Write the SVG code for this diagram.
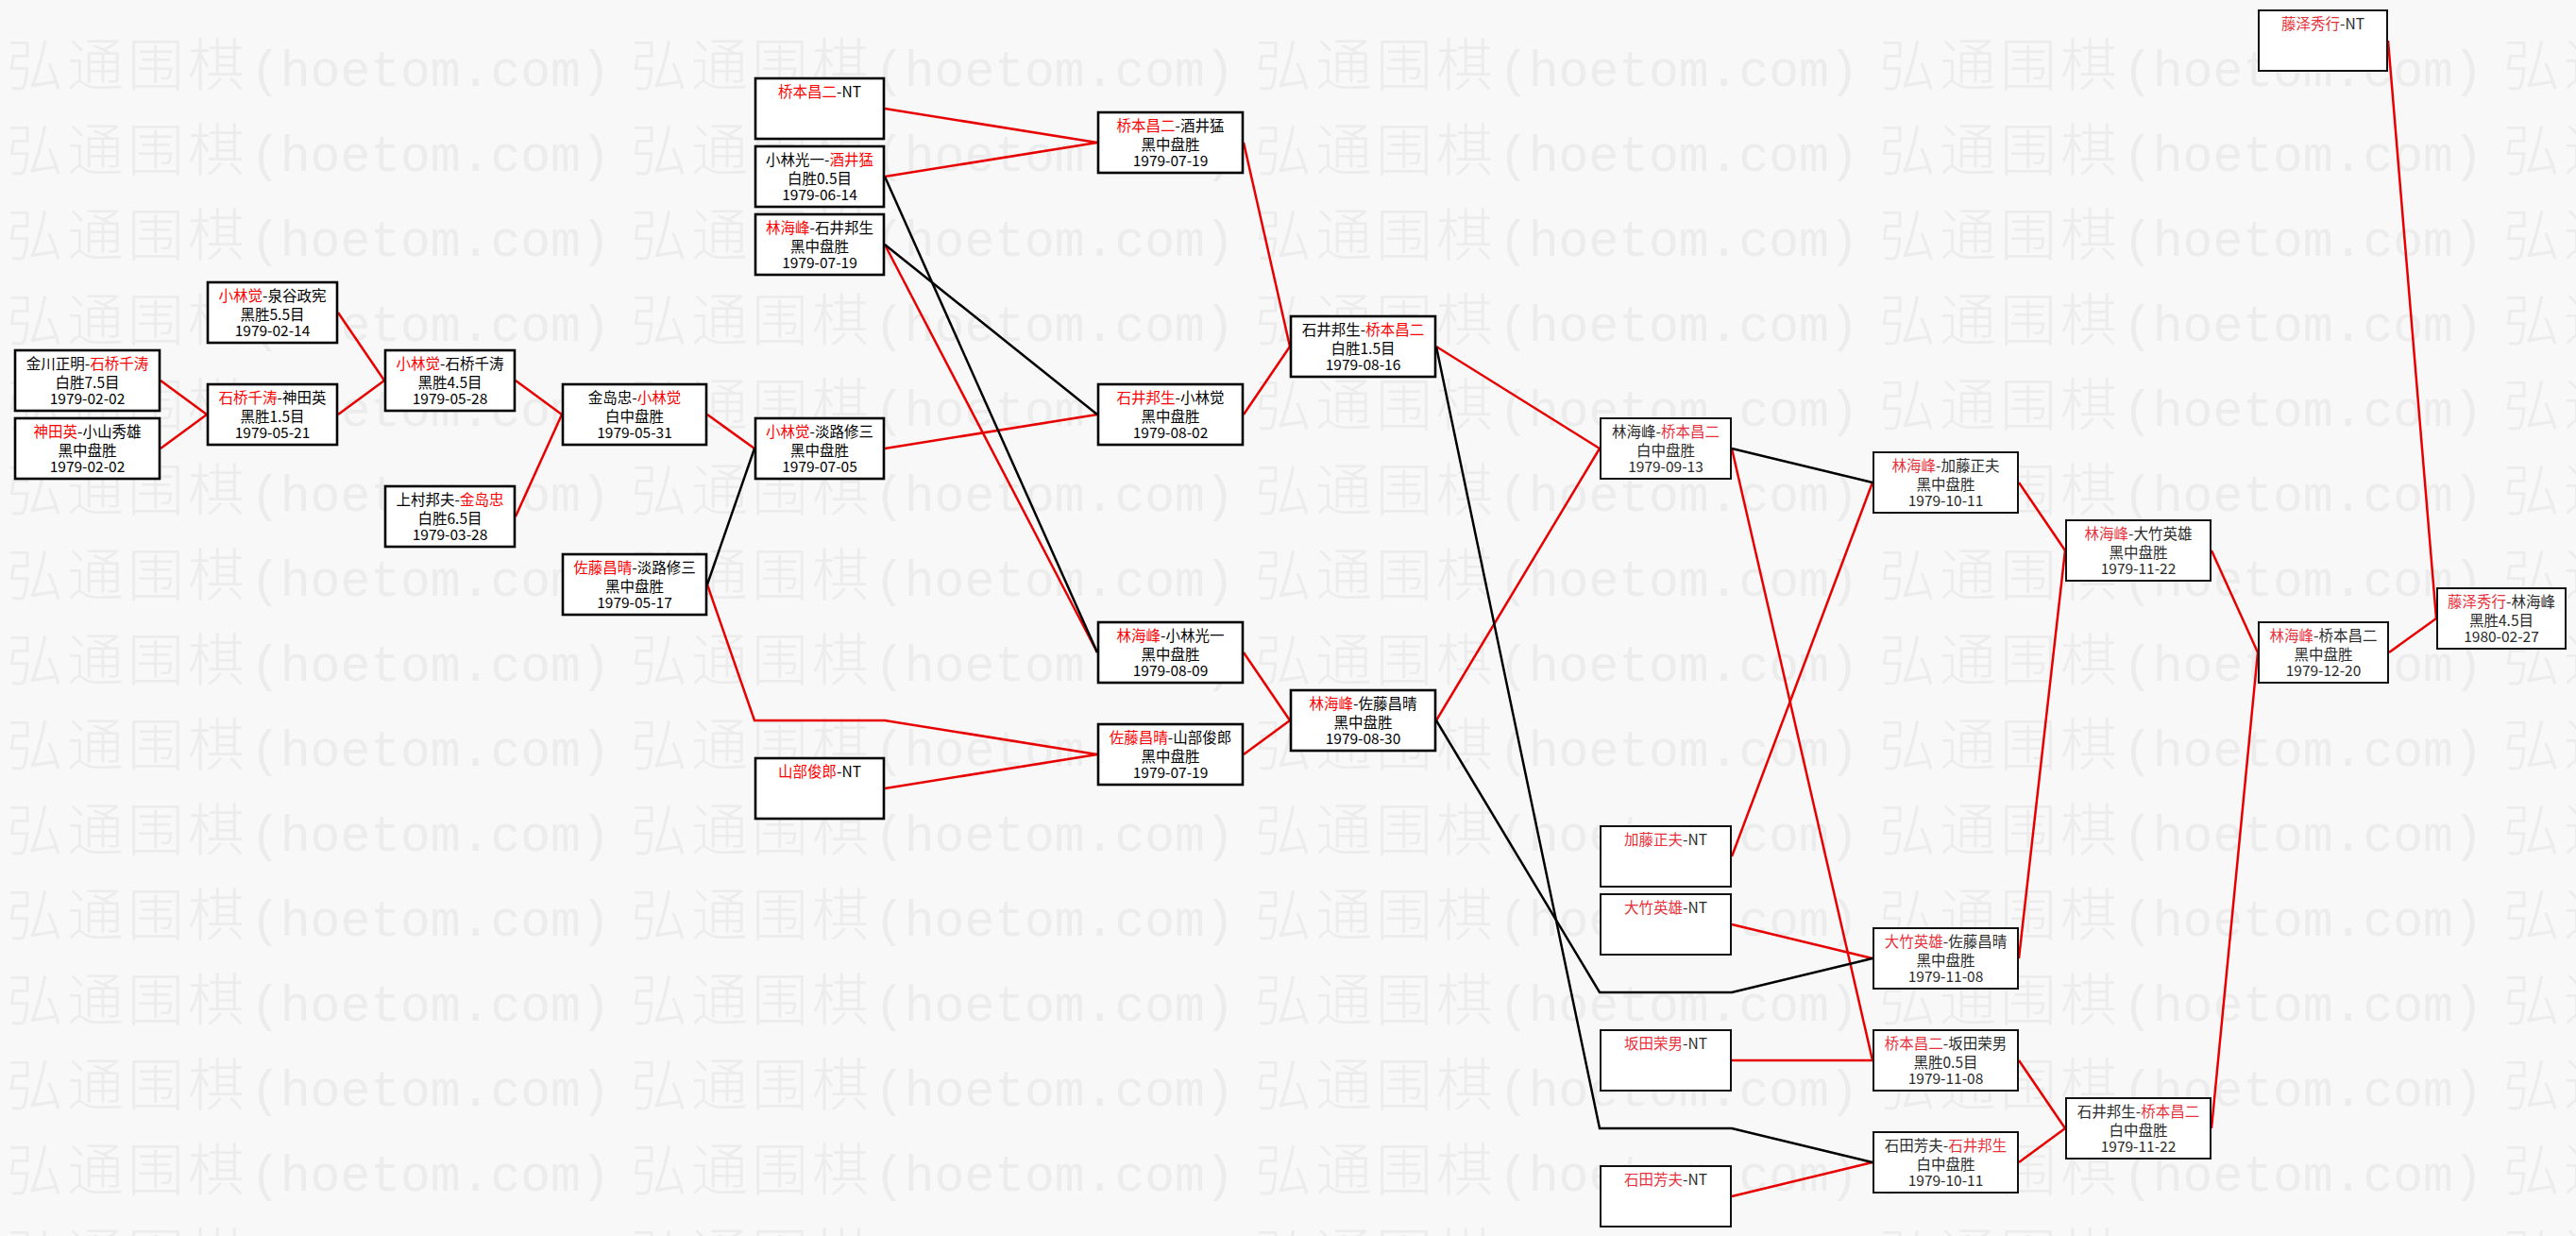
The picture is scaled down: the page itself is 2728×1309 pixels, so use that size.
<svg xmlns="http://www.w3.org/2000/svg" width="2728" height="1309" viewBox="0 0 2728 1309">
<defs>
<style>
.bg{fill:#f8f8f8}
.wm{fill:#ececec}
.wmc{font-family:"Noto Sans CJK SC","Noto Sans CJK JP",sans-serif;font-size:60px;font-weight:300;letter-spacing:4px}
.wml{font-family:"Liberation Mono","DejaVu Sans Mono",monospace;font-size:53px}
.box{fill:#fff;stroke:#000;stroke-width:2.6}
.box2{fill:#fff;stroke:#111;stroke-width:2}
.t{font-family:"Noto Sans CJK SC","Noto Sans CJK JP",sans-serif;font-size:15.5px;fill:#000;text-anchor:middle}
.t2{font-family:"Noto Sans CJK SC","Noto Sans CJK JP",sans-serif;font-size:15.5px;fill:#2a2a2a;text-anchor:middle}
.r{fill:#f00}
.r2{fill:#e8303a}
.lr{fill:none;stroke:#e80000;stroke-width:2.5}
.lb{fill:none;stroke:#000;stroke-width:2.5}
</style>
<pattern id="wmp" patternUnits="userSpaceOnUse" x="7" y="30" width="661" height="90">
<text class="wm" y="61"><tspan class="wmc" x="0">弘通围棋</tspan><tspan class="wml" x="258">(hoetom.com)</tspan></text>
</pattern>
</defs>
<rect class="bg" x="0" y="0" width="2728" height="1309"/>
<rect x="0" y="30" width="2728" height="1279" fill="url(#wmp)"/>

<g id="connectors">
<polyline class="lr" points="170,403 219,439"/>
<polyline class="lr" points="170,475 219,439"/>
<polyline class="lr" points="358,331 407,403"/>
<polyline class="lr" points="358,439 407,403"/>
<polyline class="lr" points="546,403 595,439"/>
<polyline class="lr" points="546,547 595,439"/>
<polyline class="lr" points="749,439 799,475"/>
<polyline class="lr" points="749,619 799,763 937,763 1162,799"/>
<polyline class="lr" points="937,115 1162,151"/>
<polyline class="lr" points="937,187 1162,151"/>
<polyline class="lr" points="937,259 1162,691"/>
<polyline class="lr" points="937,475 1162,439"/>
<polyline class="lr" points="937,835 1162,799"/>
<polyline class="lr" points="1317,151 1366,367"/>
<polyline class="lr" points="1317,439 1366,367"/>
<polyline class="lr" points="1317,691 1366,763"/>
<polyline class="lr" points="1317,799 1366,763"/>
<polyline class="lr" points="1521,367 1694,475"/>
<polyline class="lr" points="1521,763 1694,475"/>
<polyline class="lr" points="1834,475 1983,1123"/>
<polyline class="lr" points="1834,907 1983,511"/>
<polyline class="lr" points="1834,979 1983,1015"/>
<polyline class="lr" points="1834,1123 1983,1123"/>
<polyline class="lr" points="1834,1267 1983,1231"/>
<polyline class="lr" points="2138,511 2187,583"/>
<polyline class="lr" points="2138,1015 2187,583"/>
<polyline class="lr" points="2138,1123 2187,1195"/>
<polyline class="lr" points="2138,1231 2187,1195"/>
<polyline class="lr" points="2342,583 2391,691"/>
<polyline class="lr" points="2342,1195 2391,691"/>
<polyline class="lr" points="2530,691 2580,655"/>
<polyline class="lr" points="2529,43 2580,655"/>
<polyline class="lb" points="749,619 799,475"/>
<polyline class="lb" points="937,187 1162,691"/>
<polyline class="lb" points="937,259 1162,439"/>
<polyline class="lb" points="1521,367 1694,1195 1834,1195 1983,1231"/>
<polyline class="lb" points="1521,763 1694,1051 1834,1051 1983,1015"/>
<polyline class="lb" points="1834,475 1983,511"/>
</g>

<g id="n-a1"><rect class="box" x="16" y="371" width="153" height="64"/><text class="t" x="92.5" y="391">金川正明-<tspan class="r">石桥千涛</tspan></text><text class="t" x="92.5" y="411">白胜7.5目</text><text class="t" x="92.5" y="428">1979-02-02</text></g>
<g id="n-a2"><rect class="box" x="16" y="443" width="153" height="64"/><text class="t" x="92.5" y="463"><tspan class="r">神田英</tspan>-小山秀雄</text><text class="t" x="92.5" y="483">黑中盘胜</text><text class="t" x="92.5" y="500">1979-02-02</text></g>
<g id="n-b1"><rect class="box" x="220" y="299" width="137" height="64"/><text class="t" x="288.5" y="319"><tspan class="r">小林觉</tspan>-泉谷政宪</text><text class="t" x="288.5" y="339">黑胜5.5目</text><text class="t" x="288.5" y="356">1979-02-14</text></g>
<g id="n-b2"><rect class="box" x="220" y="407" width="137" height="64"/><text class="t" x="288.5" y="427"><tspan class="r">石桥千涛</tspan>-神田英</text><text class="t" x="288.5" y="447">黑胜1.5目</text><text class="t" x="288.5" y="464">1979-05-21</text></g>
<g id="n-c1"><rect class="box" x="408" y="371" width="137" height="64"/><text class="t" x="476.5" y="391"><tspan class="r">小林觉</tspan>-石桥千涛</text><text class="t" x="476.5" y="411">黑胜4.5目</text><text class="t" x="476.5" y="428">1979-05-28</text></g>
<g id="n-c2"><rect class="box" x="408" y="515" width="137" height="64"/><text class="t" x="476.5" y="535">上村邦夫-<tspan class="r">金岛忠</tspan></text><text class="t" x="476.5" y="555">白胜6.5目</text><text class="t" x="476.5" y="572">1979-03-28</text></g>
<g id="n-d1"><rect class="box" x="596" y="407" width="152" height="64"/><text class="t" x="672" y="427">金岛忠-<tspan class="r">小林觉</tspan></text><text class="t" x="672" y="447">白中盘胜</text><text class="t" x="672" y="464">1979-05-31</text></g>
<g id="n-d2"><rect class="box" x="596" y="587" width="152" height="64"/><text class="t" x="672" y="607"><tspan class="r">佐藤昌晴</tspan>-淡路修三</text><text class="t" x="672" y="627">黑中盘胜</text><text class="t" x="672" y="644">1979-05-17</text></g>
<g id="n-e0a"><rect class="box" x="800" y="83" width="136" height="64"/><text class="t" x="868" y="103"><tspan class="r">桥本昌二</tspan>-NT</text></g>
<g id="n-e0b"><rect class="box" x="800" y="155" width="136" height="64"/><text class="t" x="868" y="175">小林光一-<tspan class="r">酒井猛</tspan></text><text class="t" x="868" y="195">白胜0.5目</text><text class="t" x="868" y="212">1979-06-14</text></g>
<g id="n-e0c"><rect class="box" x="800" y="227" width="136" height="64"/><text class="t" x="868" y="247"><tspan class="r">林海峰</tspan>-石井邦生</text><text class="t" x="868" y="267">黑中盘胜</text><text class="t" x="868" y="284">1979-07-19</text></g>
<g id="n-e1"><rect class="box" x="800" y="443" width="136" height="64"/><text class="t" x="868" y="463"><tspan class="r">小林觉</tspan>-淡路修三</text><text class="t" x="868" y="483">黑中盘胜</text><text class="t" x="868" y="500">1979-07-05</text></g>
<g id="n-e2"><rect class="box" x="800" y="803" width="136" height="64"/><text class="t" x="868" y="823"><tspan class="r">山部俊郎</tspan>-NT</text></g>
<g id="n-f1"><rect class="box" x="1163" y="119" width="153" height="64"/><text class="t" x="1239.5" y="139"><tspan class="r">桥本昌二</tspan>-酒井猛</text><text class="t" x="1239.5" y="159">黑中盘胜</text><text class="t" x="1239.5" y="176">1979-07-19</text></g>
<g id="n-f2"><rect class="box" x="1163" y="407" width="153" height="64"/><text class="t" x="1239.5" y="427"><tspan class="r">石井邦生</tspan>-小林觉</text><text class="t" x="1239.5" y="447">黑中盘胜</text><text class="t" x="1239.5" y="464">1979-08-02</text></g>
<g id="n-f3"><rect class="box" x="1163" y="659" width="153" height="64"/><text class="t" x="1239.5" y="679"><tspan class="r">林海峰</tspan>-小林光一</text><text class="t" x="1239.5" y="699">黑中盘胜</text><text class="t" x="1239.5" y="716">1979-08-09</text></g>
<g id="n-f4"><rect class="box" x="1163" y="767" width="153" height="64"/><text class="t" x="1239.5" y="787"><tspan class="r">佐藤昌晴</tspan>-山部俊郎</text><text class="t" x="1239.5" y="807">黑中盘胜</text><text class="t" x="1239.5" y="824">1979-07-19</text></g>
<g id="n-g1"><rect class="box" x="1367" y="335" width="153" height="64"/><text class="t" x="1443.5" y="355">石井邦生-<tspan class="r">桥本昌二</tspan></text><text class="t" x="1443.5" y="375">白胜1.5目</text><text class="t" x="1443.5" y="392">1979-08-16</text></g>
<g id="n-g2"><rect class="box" x="1367" y="731" width="153" height="64"/><text class="t" x="1443.5" y="751"><tspan class="r">林海峰</tspan>-佐藤昌晴</text><text class="t" x="1443.5" y="771">黑中盘胜</text><text class="t" x="1443.5" y="788">1979-08-30</text></g>
<g id="n-h1"><rect class="box2" x="1695" y="443" width="138" height="64"/><text class="t2" x="1764" y="463">林海峰-<tspan class="r2">桥本昌二</tspan></text><text class="t2" x="1764" y="483">白中盘胜</text><text class="t2" x="1764" y="500">1979-09-13</text></g>
<g id="n-h2"><rect class="box2" x="1695" y="875" width="138" height="64"/><text class="t2" x="1764" y="895"><tspan class="r2">加藤正夫</tspan>-NT</text></g>
<g id="n-h3"><rect class="box2" x="1695" y="947" width="138" height="64"/><text class="t2" x="1764" y="967"><tspan class="r2">大竹英雄</tspan>-NT</text></g>
<g id="n-h4"><rect class="box2" x="1695" y="1091" width="138" height="64"/><text class="t2" x="1764" y="1111"><tspan class="r2">坂田荣男</tspan>-NT</text></g>
<g id="n-h5"><rect class="box2" x="1695" y="1235" width="138" height="64"/><text class="t2" x="1764" y="1255"><tspan class="r2">石田芳夫</tspan>-NT</text></g>
<g id="n-i1"><rect class="box2" x="1984" y="479" width="153" height="64"/><text class="t2" x="2060.5" y="499"><tspan class="r2">林海峰</tspan>-加藤正夫</text><text class="t2" x="2060.5" y="519">黑中盘胜</text><text class="t2" x="2060.5" y="536">1979-10-11</text></g>
<g id="n-i2"><rect class="box2" x="1984" y="983" width="153" height="64"/><text class="t2" x="2060.5" y="1003"><tspan class="r2">大竹英雄</tspan>-佐藤昌晴</text><text class="t2" x="2060.5" y="1023">黑中盘胜</text><text class="t2" x="2060.5" y="1040">1979-11-08</text></g>
<g id="n-i3"><rect class="box2" x="1984" y="1091" width="153" height="64"/><text class="t2" x="2060.5" y="1111"><tspan class="r2">桥本昌二</tspan>-坂田荣男</text><text class="t2" x="2060.5" y="1131">黑胜0.5目</text><text class="t2" x="2060.5" y="1148">1979-11-08</text></g>
<g id="n-i4"><rect class="box2" x="1984" y="1199" width="153" height="64"/><text class="t2" x="2060.5" y="1219">石田芳夫-<tspan class="r2">石井邦生</tspan></text><text class="t2" x="2060.5" y="1239">白中盘胜</text><text class="t2" x="2060.5" y="1256">1979-10-11</text></g>
<g id="n-j1"><rect class="box2" x="2188" y="551" width="153" height="64"/><text class="t2" x="2264.5" y="571"><tspan class="r2">林海峰</tspan>-大竹英雄</text><text class="t2" x="2264.5" y="591">黑中盘胜</text><text class="t2" x="2264.5" y="608">1979-11-22</text></g>
<g id="n-j2"><rect class="box2" x="2188" y="1163" width="153" height="64"/><text class="t2" x="2264.5" y="1183">石井邦生-<tspan class="r2">桥本昌二</tspan></text><text class="t2" x="2264.5" y="1203">白中盘胜</text><text class="t2" x="2264.5" y="1220">1979-11-22</text></g>
<g id="n-k1"><rect class="box2" x="2392" y="659" width="137" height="64"/><text class="t2" x="2460.5" y="679"><tspan class="r2">林海峰</tspan>-桥本昌二</text><text class="t2" x="2460.5" y="699">黑中盘胜</text><text class="t2" x="2460.5" y="716">1979-12-20</text></g>
<g id="n-l1"><rect class="box2" x="2392" y="11" width="136" height="64"/><text class="t2" x="2460" y="31"><tspan class="r2">藤泽秀行</tspan>-NT</text></g>
<g id="n-l2"><rect class="box2" x="2581" y="623" width="136" height="64"/><text class="t2" x="2649" y="643"><tspan class="r2">藤泽秀行</tspan>-林海峰</text><text class="t2" x="2649" y="663">黑胜4.5目</text><text class="t2" x="2649" y="680">1980-02-27</text></g>
</svg>
